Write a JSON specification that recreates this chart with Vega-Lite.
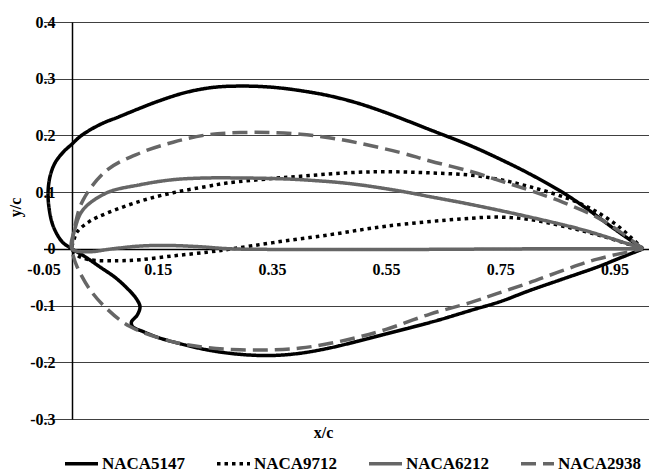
{
  "$schema": "https://vega.github.io/schema/vega-lite/v6.json",
  "width": 605.5,
  "height": 397,
  "autosize": {"type": "none"},
  "padding": {"left": 43.5, "top": 22, "right": 0, "bottom": 53},
  "background": "white",
  "config": {
    "view": {"stroke": null},
    "font": "Liberation Serif"
  },
  "data": {
    "values": [
      {"s": "NACA5147", "x": 1.0, "y": 0.0},
      {"s": "NACA5147", "x": 0.95, "y": 0.035},
      {"s": "NACA5147", "x": 0.90, "y": 0.072},
      {"s": "NACA5147", "x": 0.86, "y": 0.099},
      {"s": "NACA5147", "x": 0.80, "y": 0.133},
      {"s": "NACA5147", "x": 0.75, "y": 0.158},
      {"s": "NACA5147", "x": 0.70, "y": 0.181},
      {"s": "NACA5147", "x": 0.627, "y": 0.21},
      {"s": "NACA5147", "x": 0.55, "y": 0.24},
      {"s": "NACA5147", "x": 0.50, "y": 0.257},
      {"s": "NACA5147", "x": 0.45, "y": 0.27},
      {"s": "NACA5147", "x": 0.40, "y": 0.279},
      {"s": "NACA5147", "x": 0.35, "y": 0.285},
      {"s": "NACA5147", "x": 0.30, "y": 0.287},
      {"s": "NACA5147", "x": 0.25, "y": 0.285},
      {"s": "NACA5147", "x": 0.20, "y": 0.276},
      {"s": "NACA5147", "x": 0.15, "y": 0.26},
      {"s": "NACA5147", "x": 0.119, "y": 0.248},
      {"s": "NACA5147", "x": 0.08, "y": 0.232},
      {"s": "NACA5147", "x": 0.055, "y": 0.222},
      {"s": "NACA5147", "x": 0.032, "y": 0.21},
      {"s": "NACA5147", "x": 0.014, "y": 0.198},
      {"s": "NACA5147", "x": 0.0, "y": 0.185},
      {"s": "NACA5147", "x": -0.015, "y": 0.171},
      {"s": "NACA5147", "x": -0.029, "y": 0.153},
      {"s": "NACA5147", "x": -0.038, "y": 0.13},
      {"s": "NACA5147", "x": -0.042, "y": 0.10},
      {"s": "NACA5147", "x": -0.04, "y": 0.07},
      {"s": "NACA5147", "x": -0.033, "y": 0.04},
      {"s": "NACA5147", "x": -0.017, "y": 0.012},
      {"s": "NACA5147", "x": 0.0, "y": 0.0},
      {"s": "NACA5147", "x": 0.02, "y": -0.012},
      {"s": "NACA5147", "x": 0.049, "y": -0.032},
      {"s": "NACA5147", "x": 0.075, "y": -0.05},
      {"s": "NACA5147", "x": 0.095, "y": -0.068},
      {"s": "NACA5147", "x": 0.112, "y": -0.087},
      {"s": "NACA5147", "x": 0.119, "y": -0.102},
      {"s": "NACA5147", "x": 0.114, "y": -0.117},
      {"s": "NACA5147", "x": 0.104, "y": -0.129},
      {"s": "NACA5147", "x": 0.106, "y": -0.137},
      {"s": "NACA5147", "x": 0.125, "y": -0.146},
      {"s": "NACA5147", "x": 0.15, "y": -0.156},
      {"s": "NACA5147", "x": 0.177, "y": -0.164},
      {"s": "NACA5147", "x": 0.236, "y": -0.178},
      {"s": "NACA5147", "x": 0.294, "y": -0.186},
      {"s": "NACA5147", "x": 0.35, "y": -0.188},
      {"s": "NACA5147", "x": 0.40, "y": -0.184},
      {"s": "NACA5147", "x": 0.45, "y": -0.175},
      {"s": "NACA5147", "x": 0.50, "y": -0.163},
      {"s": "NACA5147", "x": 0.55, "y": -0.15},
      {"s": "NACA5147", "x": 0.60, "y": -0.137},
      {"s": "NACA5147", "x": 0.644, "y": -0.125},
      {"s": "NACA5147", "x": 0.70, "y": -0.108},
      {"s": "NACA5147", "x": 0.75, "y": -0.093},
      {"s": "NACA5147", "x": 0.80, "y": -0.074},
      {"s": "NACA5147", "x": 0.86, "y": -0.053},
      {"s": "NACA5147", "x": 0.92, "y": -0.032},
      {"s": "NACA5147", "x": 0.96, "y": -0.016},
      {"s": "NACA5147", "x": 1.0, "y": 0.0},

      {"s": "NACA9712", "x": 1.0, "y": 0.0},
      {"s": "NACA9712", "x": 0.95, "y": 0.045},
      {"s": "NACA9712", "x": 0.89, "y": 0.08},
      {"s": "NACA9712", "x": 0.80, "y": 0.11},
      {"s": "NACA9712", "x": 0.715, "y": 0.128},
      {"s": "NACA9712", "x": 0.627, "y": 0.134},
      {"s": "NACA9712", "x": 0.55, "y": 0.136},
      {"s": "NACA9712", "x": 0.50, "y": 0.135},
      {"s": "NACA9712", "x": 0.45, "y": 0.132},
      {"s": "NACA9712", "x": 0.40, "y": 0.128},
      {"s": "NACA9712", "x": 0.35, "y": 0.124},
      {"s": "NACA9712", "x": 0.271, "y": 0.116},
      {"s": "NACA9712", "x": 0.236, "y": 0.11},
      {"s": "NACA9712", "x": 0.177, "y": 0.099},
      {"s": "NACA9712", "x": 0.119, "y": 0.084},
      {"s": "NACA9712", "x": 0.0613, "y": 0.063},
      {"s": "NACA9712", "x": 0.03, "y": 0.048},
      {"s": "NACA9712", "x": 0.009, "y": 0.03},
      {"s": "NACA9712", "x": 0.003, "y": 0.015},
      {"s": "NACA9712", "x": 0.0, "y": 0.0},
      {"s": "NACA9712", "x": 0.01, "y": -0.012},
      {"s": "NACA9712", "x": 0.03, "y": -0.019},
      {"s": "NACA9712", "x": 0.08, "y": -0.021},
      {"s": "NACA9712", "x": 0.12, "y": -0.019},
      {"s": "NACA9712", "x": 0.18, "y": -0.012},
      {"s": "NACA9712", "x": 0.236, "y": -0.006},
      {"s": "NACA9712", "x": 0.28, "y": 0.0},
      {"s": "NACA9712", "x": 0.352, "y": 0.011},
      {"s": "NACA9712", "x": 0.452, "y": 0.025},
      {"s": "NACA9712", "x": 0.55, "y": 0.04},
      {"s": "NACA9712", "x": 0.685, "y": 0.053},
      {"s": "NACA9712", "x": 0.744, "y": 0.056},
      {"s": "NACA9712", "x": 0.80, "y": 0.052},
      {"s": "NACA9712", "x": 0.86, "y": 0.04},
      {"s": "NACA9712", "x": 0.93, "y": 0.022},
      {"s": "NACA9712", "x": 1.0, "y": 0.0},

      {"s": "NACA6212", "x": 1.0, "y": 0.0},
      {"s": "NACA6212", "x": 0.90, "y": 0.032},
      {"s": "NACA6212", "x": 0.802, "y": 0.056},
      {"s": "NACA6212", "x": 0.70, "y": 0.078},
      {"s": "NACA6212", "x": 0.627, "y": 0.092},
      {"s": "NACA6212", "x": 0.574, "y": 0.102},
      {"s": "NACA6212", "x": 0.487, "y": 0.115},
      {"s": "NACA6212", "x": 0.40, "y": 0.122},
      {"s": "NACA6212", "x": 0.35, "y": 0.124},
      {"s": "NACA6212", "x": 0.294, "y": 0.125},
      {"s": "NACA6212", "x": 0.236, "y": 0.125},
      {"s": "NACA6212", "x": 0.177, "y": 0.122},
      {"s": "NACA6212", "x": 0.119, "y": 0.113},
      {"s": "NACA6212", "x": 0.0613, "y": 0.099},
      {"s": "NACA6212", "x": 0.0193, "y": 0.069},
      {"s": "NACA6212", "x": 0.005, "y": 0.035},
      {"s": "NACA6212", "x": 0.0, "y": 0.0},
      {"s": "NACA6212", "x": 0.03, "y": -0.005},
      {"s": "NACA6212", "x": 0.07, "y": 0.0},
      {"s": "NACA6212", "x": 0.12, "y": 0.005},
      {"s": "NACA6212", "x": 0.166, "y": 0.006},
      {"s": "NACA6212", "x": 0.22, "y": 0.004},
      {"s": "NACA6212", "x": 0.28, "y": 0.0},
      {"s": "NACA6212", "x": 0.4, "y": -0.001},
      {"s": "NACA6212", "x": 0.6, "y": -0.001},
      {"s": "NACA6212", "x": 0.8, "y": 0.0},
      {"s": "NACA6212", "x": 1.0, "y": 0.0},

      {"s": "NACA2938", "x": 1.0, "y": 0.0},
      {"s": "NACA2938", "x": 0.96, "y": 0.03},
      {"s": "NACA2938", "x": 0.919, "y": 0.056},
      {"s": "NACA2938", "x": 0.86, "y": 0.082},
      {"s": "NACA2938", "x": 0.802, "y": 0.103},
      {"s": "NACA2938", "x": 0.75, "y": 0.12},
      {"s": "NACA2938", "x": 0.70, "y": 0.136},
      {"s": "NACA2938", "x": 0.627, "y": 0.155},
      {"s": "NACA2938", "x": 0.574, "y": 0.17},
      {"s": "NACA2938", "x": 0.50, "y": 0.187},
      {"s": "NACA2938", "x": 0.45, "y": 0.196},
      {"s": "NACA2938", "x": 0.40, "y": 0.202},
      {"s": "NACA2938", "x": 0.35, "y": 0.205},
      {"s": "NACA2938", "x": 0.294, "y": 0.205},
      {"s": "NACA2938", "x": 0.236, "y": 0.201},
      {"s": "NACA2938", "x": 0.177, "y": 0.188},
      {"s": "NACA2938", "x": 0.119, "y": 0.169},
      {"s": "NACA2938", "x": 0.0613, "y": 0.139},
      {"s": "NACA2938", "x": 0.0193, "y": 0.086},
      {"s": "NACA2938", "x": 0.005, "y": 0.04},
      {"s": "NACA2938", "x": 0.0, "y": 0.0},
      {"s": "NACA2938", "x": 0.002, "y": -0.012},
      {"s": "NACA2938", "x": 0.009, "y": -0.032},
      {"s": "NACA2938", "x": 0.0315, "y": -0.072},
      {"s": "NACA2938", "x": 0.0613, "y": -0.106},
      {"s": "NACA2938", "x": 0.1016, "y": -0.137},
      {"s": "NACA2938", "x": 0.177, "y": -0.164},
      {"s": "NACA2938", "x": 0.236, "y": -0.174},
      {"s": "NACA2938", "x": 0.294, "y": -0.178},
      {"s": "NACA2938", "x": 0.35, "y": -0.178},
      {"s": "NACA2938", "x": 0.40, "y": -0.175},
      {"s": "NACA2938", "x": 0.45, "y": -0.167},
      {"s": "NACA2938", "x": 0.50, "y": -0.156},
      {"s": "NACA2938", "x": 0.55, "y": -0.142},
      {"s": "NACA2938", "x": 0.627, "y": -0.115},
      {"s": "NACA2938", "x": 0.70, "y": -0.094},
      {"s": "NACA2938", "x": 0.744, "y": -0.079},
      {"s": "NACA2938", "x": 0.80, "y": -0.06},
      {"s": "NACA2938", "x": 0.86, "y": -0.038},
      {"s": "NACA2938", "x": 0.92, "y": -0.018},
      {"s": "NACA2938", "x": 1.0, "y": 0.0}
    ]
  },
  "mark": {"type": "line", "strokeWidth": 3.5, "interpolate": "catmull-rom", "clip": true},
  "encoding": {
    "x": {
      "field": "x", "type": "quantitative",
      "scale": {"domain": [-0.05, 1.0105], "nice": false, "zero": false},
      "axis": {
        "values": [-0.05, 0.15, 0.35, 0.55, 0.75, 0.95],
        "offset": -170,
        "ticks": false,
        "grid": false,
        "labelPadding": 12,
        "labelExpr": "replace(format(datum.value, '.2f'), '\u2212', '-')",
        "labelFlush": false,
        "labelOverlap": false,
        "labelFont": "Liberation Serif",
        "labelFontWeight": "bold",
        "labelFontSize": 16,
        "labelColor": "#000000",
        "domainColor": "#000000",
        "domainWidth": 1.5,
        "title": "x/c",
        "titleFont": "Liberation Serif",
        "titleFontWeight": "bold",
        "titleFontSize": 16,
        "titleColor": "#000000",
        "titleX": 279.5,
        "titleY": 183,
        "titleAlign": "center",
        "titleBaseline": "middle"
      }
    },
    "y": {
      "field": "y", "type": "quantitative",
      "scale": {"domain": [-0.3, 0.4], "nice": false, "zero": false},
      "axis": {
        "values": [-0.3, -0.2, -0.1, 0, 0.1, 0.2, 0.3, 0.4],
        "offset": -28.5,
        "ticks": false,
        "grid": true,
        "gridColor": "#404040",
        "gridWidth": 1.2,
        "labelPadding": 17,
        "labelExpr": "replace(format(datum.value, '.1~f'), '\u2212', '-')",
        "labelFlush": false,
        "labelOverlap": false,
        "labelFont": "Liberation Serif",
        "labelFontWeight": "bold",
        "labelFontSize": 16,
        "labelColor": "#000000",
        "domainColor": "#000000",
        "domainWidth": 1.5,
        "title": "y/c",
        "titleFont": "Liberation Serif",
        "titleFontWeight": "bold",
        "titleFontSize": 16,
        "titleColor": "#000000",
        "titleX": -57,
        "titleY": 185,
        "titleAngle": -90,
        "titleAlign": "center",
        "titleBaseline": "middle"
      }
    },
    "color": {
      "field": "s", "type": "nominal",
      "scale": {
        "domain": ["NACA5147", "NACA9712", "NACA6212", "NACA2938"],
        "range": ["#000000", "#000000", "#666666", "#666666"]
      },
      "legend": {
        "title": null,
        "orient": "none",
        "direction": "horizontal",
        "columns": 4,
        "legendX": 19.5,
        "legendY": 423,
        "symbolType": "stroke",
        "symbolSize": 1089,
        "symbolStrokeWidth": 3.5,
        "columnPadding": 24,
        "labelOffset": 2,
        "labelFont": "Liberation Serif",
        "labelFontWeight": "bold",
        "labelFontSize": 17,
        "labelColor": "#000000"
      }
    },
    "strokeDash": {
      "field": "s", "type": "nominal",
      "scale": {
        "domain": ["NACA5147", "NACA9712", "NACA6212", "NACA2938"],
        "range": [[1, 0], [3.5, 4], [1, 0], [15, 7]]
      },
      "legend": {
        "title": null,
        "orient": "none",
        "direction": "horizontal",
        "columns": 4,
        "legendX": 19.5,
        "legendY": 423,
        "symbolType": "stroke",
        "symbolSize": 1089,
        "symbolStrokeWidth": 3.5,
        "columnPadding": 24,
        "labelOffset": 2,
        "labelFont": "Liberation Serif",
        "labelFontWeight": "bold",
        "labelFontSize": 17,
        "labelColor": "#000000"
      }
    },
    "order": {"value": null}
  }
}
